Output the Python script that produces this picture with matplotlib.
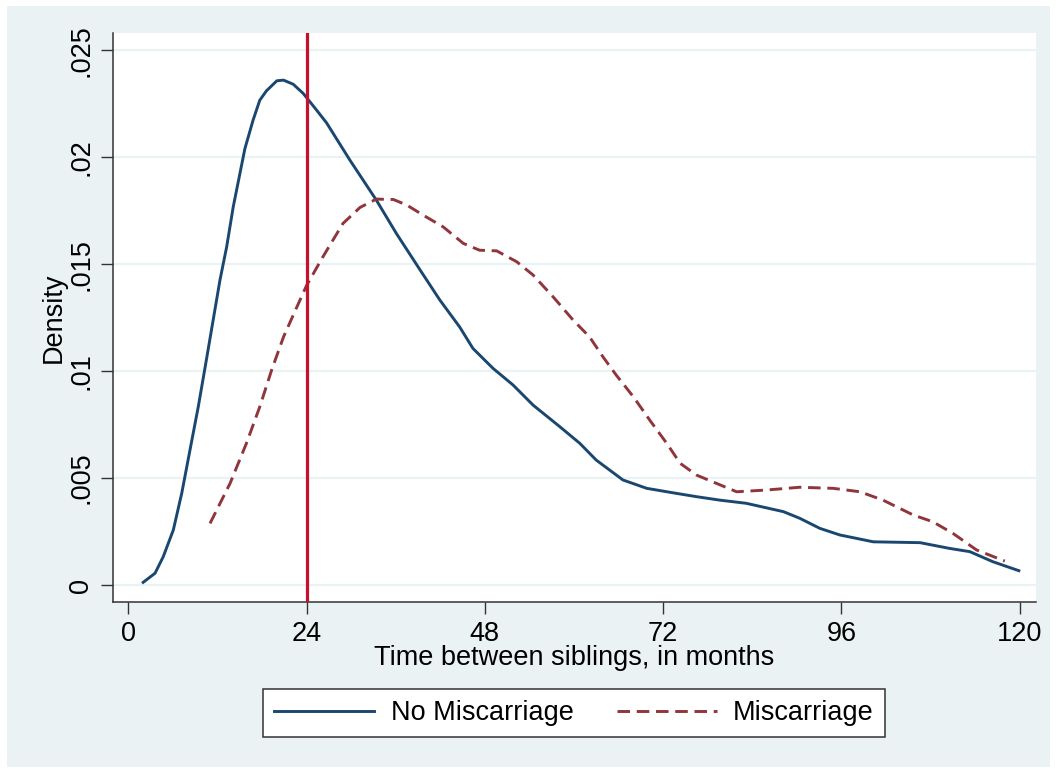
import numpy as np
import matplotlib.pyplot as plt
from matplotlib.patches import Rectangle

plt.rcParams['font.family'] = ['Liberation Sans', 'DejaVu Sans']

# No Miscarriage density (months, density)
nomis_x = [2.0, 3.6, 4.7, 6.06, 7.19, 8.3, 9.42, 10.55, 12.34, 13.24, 14.13, 15.03, 15.7,
           16.8, 17.7, 18.6, 20.0, 20.9, 22.2, 23.55, 25.35, 26.7, 29.84, 33.4, 36.1, 39.3,
           41.95, 44.6, 46.4, 49.1, 51.8, 54.5, 58.1, 60.8, 63.0, 66.6, 69.8, 73.35, 76.5,
           79.6, 83.2, 88.2, 90.4, 93.1, 95.8, 100.3, 106.6, 110.6, 113.3, 116.4, 119.9]
nomis_y = [0.000125, 0.00055, 0.00132, 0.00257, 0.00428, 0.0063, 0.00833, 0.0106, 0.01425,
           0.0158, 0.01768, 0.01924, 0.0204, 0.02173, 0.02266, 0.0231, 0.02357, 0.0236,
           0.02341, 0.02298, 0.0222, 0.0216, 0.01986, 0.01799, 0.01643, 0.01472, 0.01332,
           0.01207, 0.01106, 0.01013, 0.00935, 0.00841, 0.0074, 0.00662, 0.00584, 0.00491,
           0.00452, 0.00431, 0.00413, 0.00397, 0.00382, 0.00343, 0.00312, 0.00265, 0.00234,
           0.00202, 0.00198, 0.00171, 0.00156, 0.00109, 0.00067]

# Miscarriage density
mis_x = [11.0, 13.7, 15.9, 17.7, 19.3, 20.9, 22.7, 24.0, 26.2, 28.9, 31.2, 33.4, 35.7, 37.5,
         39.7, 42.4, 45.1, 47.3, 49.6, 52.3, 54.5, 57.2, 59.9, 62.1, 63.9, 65.7, 68.0, 70.2,
         72.5, 74.3, 76.5, 79.2, 81.9, 85.9, 90.4, 94.9, 98.5, 101.6, 105.7, 108.3, 111.0,
         114.2, 118.0]
mis_y = [0.00288, 0.00475, 0.00662, 0.00833, 0.01005, 0.0116, 0.013, 0.0140, 0.01534, 0.0169,
         0.01765, 0.01804, 0.01802, 0.01776, 0.01729, 0.01674, 0.01597, 0.01565, 0.01562,
         0.01511, 0.01449, 0.01347, 0.01238, 0.0116, 0.01067, 0.00981, 0.0088, 0.00771,
         0.00662, 0.00569, 0.00514, 0.00475, 0.00436, 0.00444, 0.00457, 0.00452, 0.00436,
         0.00397, 0.00327, 0.00296, 0.00242, 0.00164, 0.00112]

xticks = [0, 24, 48, 72, 96, 120]
yticks = [0, 0.005, 0.01, 0.015, 0.02, 0.025]
ytick_labels = ["0", ".005", ".01", ".015", ".02", ".025"]
cutoff = 24

bg = "#EAF2F3"
navy = "#1A476F"
maroon = "#90353B"
red = "#C8102E"
fs = 19.5

fig = plt.figure(figsize=(10.56, 7.73), dpi=100)
fig.patch.set_facecolor("white")
fig.patches.append(Rectangle((7 / 1056, 6 / 773), 1043 / 1056, 761 / 773,
                             transform=fig.transFigure, facecolor=bg, edgecolor="none",
                             zorder=-10))

ax = fig.add_axes([0.107, 0.2212, 0.874, 0.736])
ax.set_zorder(1)
ax.set_facecolor("white")

for yt in yticks:
    ax.axhline(yt, color=bg, lw=1.6, zorder=1)

ax.plot(nomis_x, nomis_y, color=navy, lw=2.1, label="No Miscarriage", zorder=3)
ax.plot(mis_x, mis_y, color=maroon, lw=2.1, dashes=(4.3, 2.3), label="Miscarriage", zorder=3)
ax.axvline(cutoff, color=red, lw=2.3, zorder=4)

ax.set_xlim(-2.06, 122.2)
ax.set_ylim(-0.000794, 0.0258)
ax.set_xticks(xticks)
ax.set_xticklabels([str(v) for v in xticks])
ax.set_yticks(yticks)
ax.set_yticklabels(ytick_labels, rotation=90, va="center")

for s in ["top", "right"]:
    ax.spines[s].set_visible(False)
for s in ["left", "bottom"]:
    ax.spines[s].set_color("#333333")
    ax.spines[s].set_linewidth(1.1)

ax.tick_params(axis="both", labelsize=fs, length=8.5, width=1.0, color="#333333", pad=5)
ax.set_xlabel("Time between siblings, in months", fontsize=fs, labelpad=-1)
ax.set_ylabel("Density", fontsize=fs, labelpad=1)

leg = fig.legend(loc="center", bbox_to_anchor=(574 / 1056, 60 / 773), ncol=2, fontsize=fs,
                 frameon=True, fancybox=False, framealpha=1, handlelength=3.7,
                 columnspacing=1.6, handletextpad=0.6, borderpad=0.4, borderaxespad=0)
leg.get_frame().set_edgecolor("#333333")
leg.get_frame().set_linewidth(1.1)
leg.get_frame().set_facecolor("white")

fig.savefig("out.png", dpi=100, facecolor=fig.get_facecolor())
